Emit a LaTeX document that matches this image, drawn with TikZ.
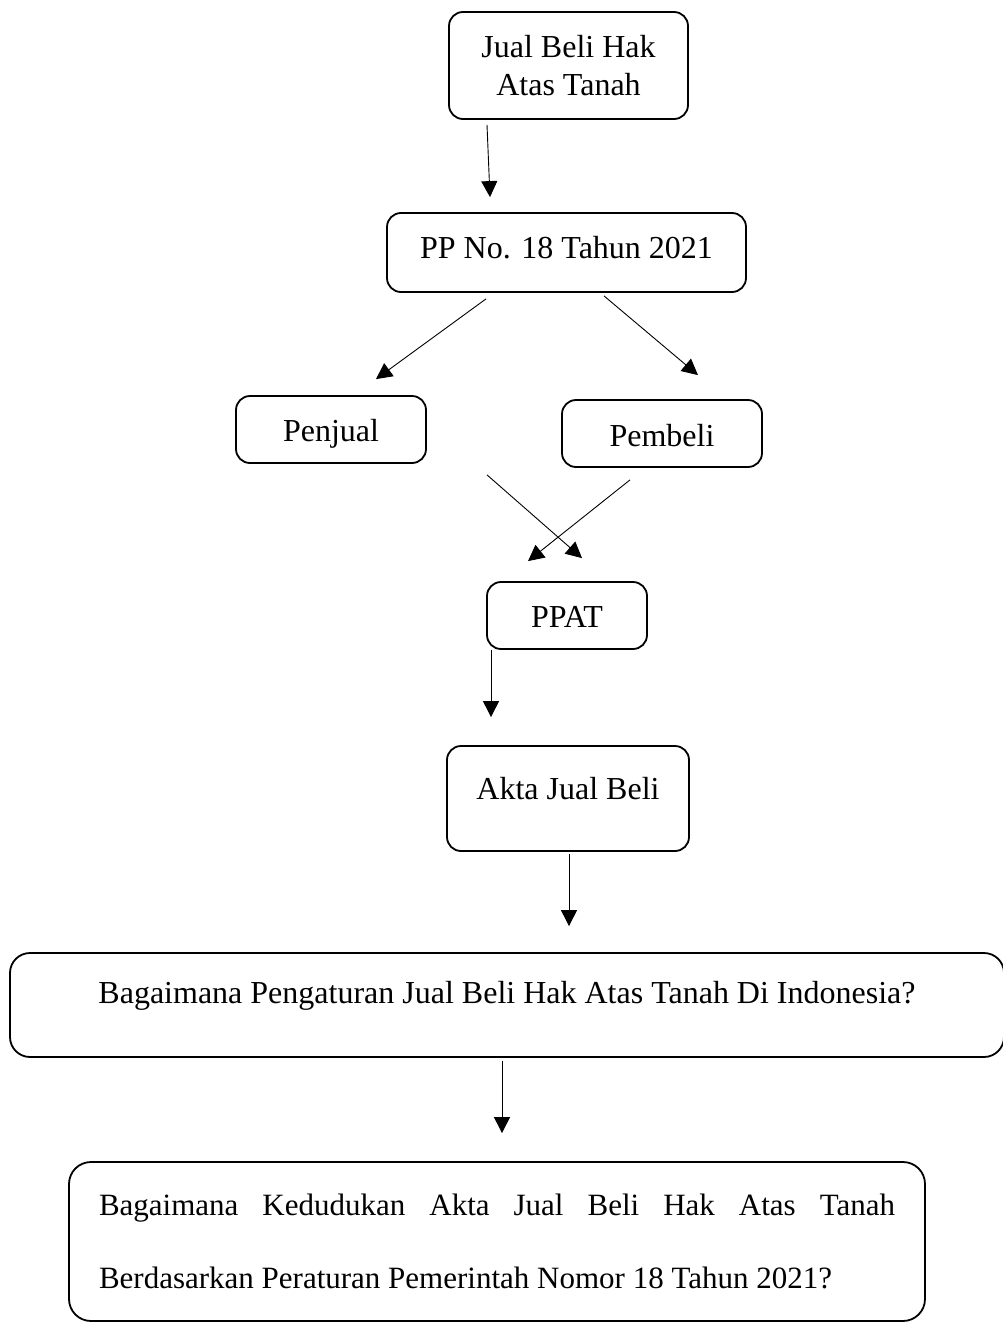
\documentclass[tikz,border=0pt]{standalone}
\usepackage{fontspec}
\setmainfont{Liberation Serif}
\usetikzlibrary{arrows.meta,calc}
\begin{document}
\begin{tikzpicture}[x=1pt,y=-1pt,
  box/.style={draw, line width=1.8pt, rounded corners=14pt, inner sep=0pt,
    font=\fontsize{32}{38}\selectfont, align=center},
  arr/.style={line width=0.9pt, -{Triangle[length=16pt,width=16pt]}}]
\useasboundingbox (0,0) rectangle (1002,1322);

\node[box, minimum width=239pt, minimum height=107pt] (jual) at (568.5,65.5) {Jual Beli Hak\\Atas Tanah};
\node[box, minimum width=359pt, minimum height=79pt, text height=22pt, text depth=11pt] (pp) at (566.5,252.5) {PP No. 18 Tahun 2021};
\node[box, minimum width=190pt, minimum height=67pt, text height=28pt, text depth=4pt] (penjual) at (331,429.5) {Penjual};
\node[box, minimum width=200pt, minimum height=67pt, text height=32pt, text depth=7pt] (pembeli) at (662,433.5) {Pembeli};
\node[box, minimum width=160pt, minimum height=67pt, text height=30pt, text depth=7pt] (ppat) at (567,615.5) {PPAT};
\node[box, minimum width=242pt, minimum height=105pt, text height=22pt, text depth=21pt] (akta) at (568,798.5) {Akta Jual Beli};
\node[box, minimum width=994pt, minimum height=104pt, rounded corners=20pt, text height=22pt, text depth=26pt] (q1) at (507,1005) {Bagaimana Pengaturan Jual Beli Hak Atas Tanah Di Indonesia?};
\node[box, minimum width=856pt, minimum height=159pt, rounded corners=22pt, text width=796pt, align=justify,
  font=\fontsize{31}{73}\selectfont] (q2) at (497,1241.5)
  {Bagaimana Kedudukan Akta Jual Beli Hak Atas Tanah\linebreak Berdasarkan Peraturan Pemerintah Nomor 18 Tahun 2021?};

\draw[arr] ($(jual.south)+(-81.5,5)$) -- ($(pp.north)+(-76.5,-15)$);
\draw[arr] ($(pp.south)+(-80.5,6)$) -- ($(penjual.north)+(45,-16)$);
\draw[arr] ($(pp.south)+(37.5,3)$) -- ($(pembeli.north)+(36,-24)$);
\draw[arr] ($(penjual.south)+(156,11)$) -- ($(ppat.north)+(15,-23)$);
\draw[arr] ($(pembeli.south)+(-32,12)$) -- ($(ppat.north)+(-39,-20)$);
\draw[arr] ($(ppat.south)+(-76,0)$) -- ($(akta.north)+(-77,-28)$);
\draw[arr] ($(akta.south)+(1,2)$) -- ($(q1.north)+(62,-26)$);
\draw[arr] ($(q1.south)+(-5,3)$) -- ($(q2.north)+(5,-28)$);
\end{tikzpicture}
\end{document}
